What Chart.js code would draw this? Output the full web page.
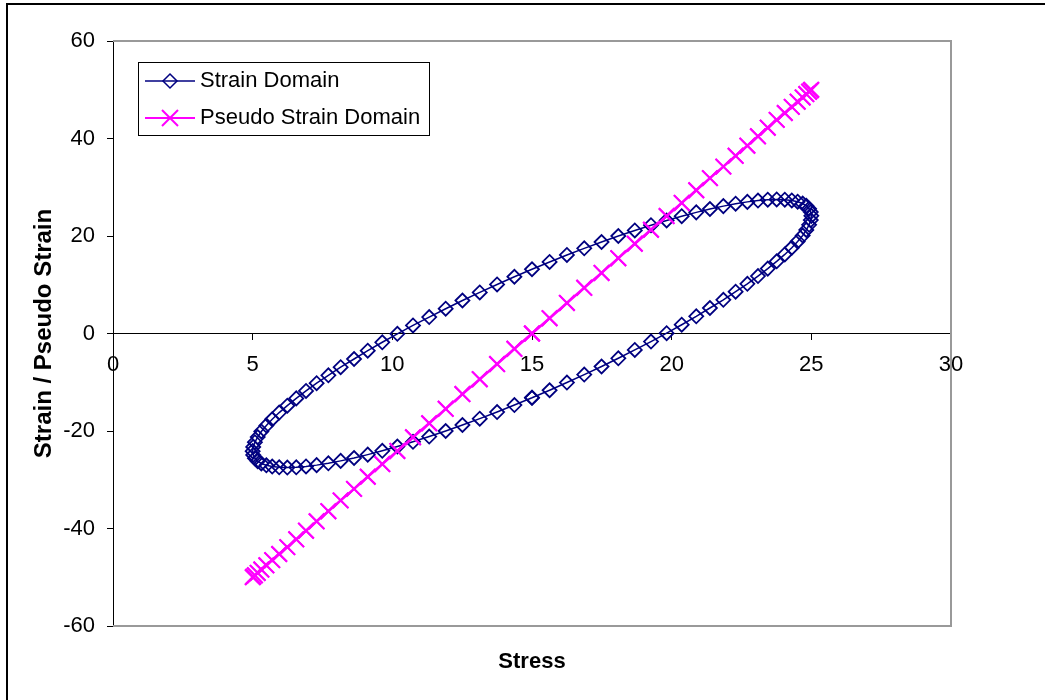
<!DOCTYPE html>
<html>
<head>
<meta charset="utf-8">
<script src="https://cdn.jsdelivr.net/npm/chart.js@4/dist/chart.umd.min.js"></script>
<style>
  html, body { margin: 0; padding: 0; background: #fff; overflow: hidden; }
  #marco { position: absolute; left: 6px; top: 3px; width: 1100px; height: 800px; border: 2px solid #000; }
  #grafico { position: absolute; left: 0; top: 0; }
</style>
</head>
<body>
<div id="marco"></div>
<canvas id="grafico" width="1045" height="700"></canvas>
<script>
// Datos (un ciclo de carga, 101 puntos)
const stress = [
  15.00, 15.63, 16.25, 16.87, 17.49, 18.09, 18.68, 19.26, 19.82, 20.36, 20.88, 21.37, 21.85,
  22.29, 22.71, 23.09, 23.44, 23.76, 24.05, 24.30, 24.51, 24.69, 24.82, 24.92, 24.98, 25.00,
  24.98, 24.92, 24.82, 24.69, 24.51, 24.30, 24.05, 23.76, 23.44, 23.09, 22.71, 22.29, 21.85,
  21.37, 20.88, 20.36, 19.82, 19.26, 18.68, 18.09, 17.49, 16.87, 16.25, 15.63, 15.00,
  14.37, 13.75, 13.13, 12.51, 11.91, 11.32, 10.74, 10.18, 9.64, 9.12, 8.63, 8.15, 7.71,
  7.29, 6.91, 6.56, 6.24, 5.95, 5.70, 5.49, 5.31, 5.18, 5.08, 5.02, 5.00,
  5.02, 5.08, 5.18, 5.31, 5.49, 5.70, 5.95, 6.24, 6.56, 6.91, 7.29, 7.71, 8.15,
  8.63, 9.12, 9.64, 10.18, 10.74, 11.32, 11.91, 12.51, 13.13, 13.75, 14.37, 15.00
];

const strain = [
  -13.18, -11.64, -10.06, -8.43, -6.77, -5.08, -3.37, -1.65, 0.07, 1.80, 3.52, 5.23, 6.91,
  8.57, 10.19, 11.78, 13.31, 14.80, 16.22, 17.59, 18.88, 20.10, 21.24, 22.29, 23.26, 24.13,
  24.91, 25.60, 26.18, 26.66, 27.03, 27.29, 27.45, 27.50, 27.44, 27.27, 27.00, 26.62, 26.13,
  25.54, 24.85, 24.06, 23.18, 22.21, 21.14, 20.00, 18.77, 17.47, 16.11, 14.67, 13.18,
  11.64, 10.06, 8.43, 6.77, 5.08, 3.37, 1.65, -0.07, -1.80, -3.52, -5.23, -6.91, -8.57,
  -10.19, -11.78, -13.31, -14.80, -16.22, -17.59, -18.88, -20.10, -21.24, -22.29, -23.26, -24.13,
  -24.91, -25.60, -26.18, -26.66, -27.03, -27.29, -27.45, -27.50, -27.44, -27.27, -27.00, -26.62,
  -26.13, -25.54, -24.85, -24.06, -23.18, -22.21, -21.14, -20.00, -18.77, -17.47, -16.11, -14.67, -13.18
];

const pseudoStrain = [
  0.00, 3.14, 6.27, 9.37, 12.43, 15.45, 18.41, 21.29, 24.09, 26.79, 29.39, 31.87, 34.23,
  36.45, 38.53, 40.45, 42.22, 43.82, 45.24, 46.49, 47.55, 48.43, 49.11, 49.61, 49.90, 50.00,
  49.90, 49.61, 49.11, 48.43, 47.55, 46.49, 45.24, 43.82, 42.22, 40.45, 38.53, 36.45, 34.23,
  31.87, 29.39, 26.79, 24.09, 21.29, 18.41, 15.45, 12.43, 9.37, 6.27, 3.14, 0.00,
  -3.14, -6.27, -9.37, -12.43, -15.45, -18.41, -21.29, -24.09, -26.79, -29.39, -31.87, -34.23,
  -36.45, -38.53, -40.45, -42.22, -43.82, -45.24, -46.49, -47.55, -48.43, -49.11, -49.61, -49.90, -50.00,
  -49.90, -49.61, -49.11, -48.43, -47.55, -46.49, -45.24, -43.82, -42.22, -40.45, -38.53, -36.45,
  -34.23, -31.87, -29.39, -26.79, -24.09, -21.29, -18.41, -15.45, -12.43, -9.37, -6.27, -3.14, 0.00
];

const seriesNames = ["Strain Domain", "Pseudo Strain Domain"];
const xTitle = "Stress";
const yTitle = "Strain / Pseudo Strain";
const xTicks = { min: 0, max: 30, step: 5 };
const yTicks = { min: -60, max: 60, step: 20 };

const FUENTE = '"Liberation Sans", Arial, sans-serif';
const AZUL = "#000080";
const ROSA = "#FF00FF";

// Marco gris del area de trazado (arriba, derecha, abajo)
const marcoArea = {
    id: "marcoArea",
    beforeDatasetsDraw(chart) {
        const { ctx, chartArea: a } = chart;
        ctx.save();
        ctx.strokeStyle = "#999";
        ctx.lineWidth = 2;
        ctx.beginPath();
        ctx.moveTo(a.left, a.top);
        ctx.lineTo(a.right, a.top);
        ctx.lineTo(a.right, a.bottom);
        ctx.lineTo(a.left, a.bottom);
        ctx.stroke();
        ctx.restore();
    }
};

// Titulo del eje X (abajo, centrado en el area)
const tituloX = {
    id: "tituloX",
    afterDraw(chart) {
        const { ctx, chartArea: a } = chart;
        ctx.save();
        ctx.font = "bold 22px " + FUENTE;
        ctx.fillStyle = "#000";
        ctx.textAlign = "center";
        ctx.textBaseline = "middle";
        ctx.fillText(xTitle, (a.left + a.right) / 2, 662);
        ctx.restore();
    }
};

// Leyenda estilo Excel: linea + marcador
const leyenda = {
    id: "leyenda",
    afterDraw(chart) {
        const ctx = chart.ctx;
        ctx.save();
        ctx.fillStyle = "#fff";
        ctx.fillRect(138, 62, 291, 73);
        ctx.strokeStyle = "#000";
        ctx.lineWidth = 1;
        ctx.strokeRect(138.5, 62.5, 291, 73);

        const filas = [
            { y: 81, color: AZUL, marca: "rombo" },
            { y: 118, color: ROSA, marca: "cruz" }
        ];
        filas.forEach((f, i) => {
            ctx.strokeStyle = f.color;
            ctx.lineWidth = f.marca === "cruz" ? 2 : 1.5;
            ctx.beginPath();
            ctx.moveTo(145, f.y);
            ctx.lineTo(195, f.y);
            ctx.stroke();
            ctx.beginPath();
            if (f.marca === "rombo") {
                ctx.moveTo(170, f.y - 7);
                ctx.lineTo(177, f.y);
                ctx.lineTo(170, f.y + 7);
                ctx.lineTo(163, f.y);
                ctx.closePath();
            } else {
                ctx.moveTo(162, f.y - 8);
                ctx.lineTo(178, f.y + 8);
                ctx.moveTo(178, f.y - 8);
                ctx.lineTo(162, f.y + 8);
            }
            ctx.stroke();
            ctx.fillStyle = "#000";
            ctx.font = "22px " + FUENTE;
            ctx.textAlign = "left";
            ctx.textBaseline = "middle";
            ctx.fillText(seriesNames[i], 200, f.y);
        });
        ctx.restore();
    }
};

const ctx = document.getElementById("grafico").getContext("2d");

new Chart(ctx, {
    type: "scatter",
    data: {
        datasets: [
            {
                label: seriesNames[0],
                data: stress.map((s, i) => ({ x: s, y: strain[i] })),
                showLine: true,
                borderColor: AZUL,
                borderWidth: 1.5,
                pointStyle: "rectRot",
                pointRadius: 7,
                pointBorderWidth: 1.8,
                pointBorderColor: AZUL,
                pointBackgroundColor: "rgba(0,0,0,0)",
                order: 2
            },
            {
                label: seriesNames[1],
                data: stress.map((s, i) => ({ x: s, y: pseudoStrain[i] })),
                showLine: true,
                borderColor: ROSA,
                borderWidth: 2.5,
                pointStyle: "crossRot",
                pointRadius: 11,
                pointBorderWidth: 2,
                pointBorderColor: ROSA,
                pointBackgroundColor: ROSA,
                order: 1
            }
        ]
    },
    options: {
        responsive: false,
        animation: false,
        layout: { padding: { left: 0, top: 41, right: 94, bottom: 74 } },
        plugins: {
            legend: { display: false },
            tooltip: { enabled: false }
        },
        scales: {
            x: {
                type: "linear",
                position: { y: 0 },
                min: xTicks.min,
                max: xTicks.max,
                ticks: {
                    stepSize: xTicks.step,
                    color: "#000",
                    font: { family: FUENTE, size: 22 },
                    padding: 12,
                    maxRotation: 0
                },
                grid: { drawOnChartArea: false, drawTicks: true, tickLength: 6, color: "#000" },
                border: { color: "#000", width: 1 }
            },
            y: {
                type: "linear",
                min: yTicks.min,
                max: yTicks.max,
                ticks: {
                    stepSize: yTicks.step,
                    color: "#000",
                    font: { family: FUENTE, size: 22 },
                    padding: 12
                },
                grid: { drawOnChartArea: false, drawTicks: true, tickLength: 6, color: "#000" },
                border: { color: "#000", width: 1 },
                title: {
                    display: true,
                    text: yTitle,
                    color: "#000",
                    font: { family: FUENTE, size: 24, weight: "bold", lineHeight: 1.2 },
                    padding: { top: 30, bottom: 0 }
                },
                afterFit(scale) {
                    scale.width = 113;
                }
            }
        }
    },
    plugins: [marcoArea, tituloX, leyenda]
});
</script>
</body>
</html>
